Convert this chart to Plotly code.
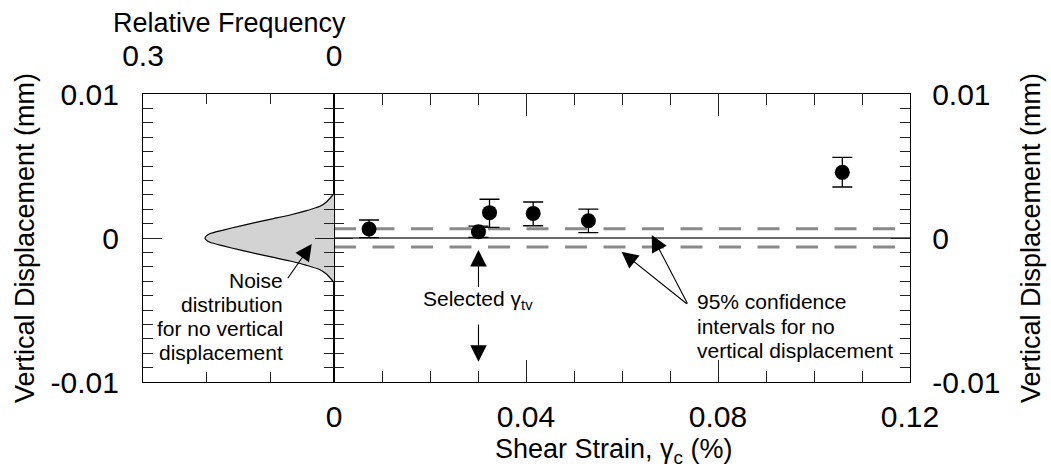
import plotly.graph_objects as go

# ---------------- data ----------------
strain = [0.0073, 0.0301, 0.0324, 0.0415, 0.0530, 0.1059]
disp = [0.00063, 0.00044, 0.00176, 0.00171, 0.00120, 0.00456]
err_plus = [0.00062, 0.00039, 0.00093, 0.00079, 0.00080, 0.00104]
err_minus = [0.00061, 0.00040, 0.00102, 0.00086, 0.00083, 0.00102]

ci_upper = 0.00064
ci_lower = -0.00062
zero_line = 0.0
selected_strain = 0.0301

noise_freq = [0.0, 0.0036, 0.0115, 0.022, 0.043, 0.069, 0.095, 0.121, 0.148,
              0.174, 0.195, 0.2005, 0.2026, 0.2005, 0.195, 0.174, 0.148, 0.121,
              0.095, 0.069, 0.043, 0.022, 0.0115, 0.0036, 0.0]
noise_disp = [0.0031, 0.0029, 0.00252, 0.0022, 0.0019, 0.0016, 0.00135, 0.0011,
              0.00083, 0.00055, 0.0003, 0.00015, 0.0, -0.00015, -0.0003, -0.00055,
              -0.00083, -0.0011, -0.00135, -0.0016, -0.0019, -0.0022, -0.00252,
              -0.0029, -0.0031]

x_ticks = [0, 0.04, 0.08, 0.12]
x_ticktext = ["0", "0.04", "0.08", "0.12"]
y_ticks = [-0.01, 0, 0.01]
y_ticktext = ["-0.01", "0", "0.01"]
f_ticks = [0.3, 0]
f_ticktext = ["0.3", "0"]

# ---------------- layout geometry ----------------
W, H = 1051, 468
L, R, T, B = 143, 141, 94, 86
PW = W - L - R
PH = H - T - B
split = (334 - L) / PW

FONT = "Arial, Liberation Sans, Helvetica, sans-serif"
TICKF = dict(family=FONT, size=30, color="black")
TITLEF = dict(family=FONT, size=27, color="black")
ANNF = dict(family=FONT, size=21, color="black")


def px(xp):
    return (xp - L) / PW


def py(yp):
    return (H - B - yp) / PH


fig = go.Figure()

# noise distribution (left panel)
fig.add_trace(go.Scatter(
    x=noise_freq, y=noise_disp, xaxis="x2", yaxis="y",
    mode="lines", fill="toself", fillcolor="#d3d3d3",
    line=dict(color="black", width=1.2, shape="spline", smoothing=0.6),
    hoverinfo="skip", showlegend=False))

# confidence interval dashed lines
for yv in (ci_upper, ci_lower):
    fig.add_trace(go.Scatter(
        x=[x_ticks[0], x_ticks[-1]], y=[yv, yv], xaxis="x", yaxis="y2",
        mode="lines", line=dict(color="#8a8a8a", width=3, dash="22px,16.5px"),
        hoverinfo="skip", showlegend=False))

# zero line
fig.add_trace(go.Scatter(
    x=[x_ticks[0], x_ticks[-1]], y=[zero_line, zero_line], xaxis="x", yaxis="y2",
    mode="lines", line=dict(color="#3a3a3a", width=1.3),
    hoverinfo="skip", showlegend=False))

# data points with error bars
fig.add_trace(go.Scatter(
    x=strain, y=disp, xaxis="x", yaxis="y2", mode="markers",
    marker=dict(color="black", size=15),
    error_y=dict(type="data", symmetric=False, array=err_plus,
                 arrayminus=err_minus, color="black", thickness=1.3, width=10),
    showlegend=False))

axis_common = dict(showline=True, linecolor="black", linewidth=1.3,
                   ticks="inside", tickcolor="#222", tickwidth=1.2,
                   showgrid=False, zeroline=False, tickfont=TICKF,
                   mirror="ticks")

fig.update_layout(
    width=W, height=H,
    margin=dict(l=L, r=R, t=T, b=B, pad=0),
    paper_bgcolor="white", plot_bgcolor="rgba(0,0,0,0)",
    showlegend=False,
    xaxis=dict(domain=[split, 1], anchor="y2", range=[0, 0.12],
               tickvals=x_ticks, ticktext=x_ticktext, ticklen=22,
               minor=dict(dtick=0.01, ticklen=11, ticks="inside",
                          tickcolor="#222", tickwidth=1.2, showgrid=False),
               ticklabelstandoff=8, **axis_common),
    xaxis2=dict(domain=[0, split], anchor="y", side="top", range=[0.3, 0],
                tickvals=f_ticks, ticktext=f_ticktext, ticklen=10,
                minor=dict(tickvals=[0.1, 0.2], ticklen=10, ticks="inside",
                           tickcolor="#222", tickwidth=1.2, showgrid=False),
                ticklabelstandoff=15, **axis_common),
    yaxis=dict(domain=[0, 1], anchor="x2", side="left", range=[-0.01, 0.01],
               tickvals=y_ticks, ticktext=y_ticktext, ticklen=19,
               minor=dict(dtick=0.001, ticklen=10, ticks="inside",
                          tickcolor="#222", tickwidth=1.2, showgrid=False),
               ticklabelstandoff=17, **axis_common),
    yaxis2=dict(domain=[0, 1], anchor="x", side="right", range=[-0.01, 0.01],
                matches="y",
                tickvals=y_ticks, ticktext=y_ticktext, ticklen=19,
                minor=dict(dtick=0.001, ticklen=10, ticks="inside",
                           tickcolor="#222", tickwidth=1.2, showgrid=False),
                ticklabelstandoff=15, **axis_common),
)

ann = []
# axis titles
ann.append(dict(text="Relative Frequency", x=px(229), y=py(23), xref="paper",
                yref="paper", showarrow=False, font=TITLEF,
                xanchor="center", yanchor="middle"))
ann.append(dict(text="Vertical Displacement (mm)", x=px(25), y=0.5, xref="paper",
                yref="paper", showarrow=False, font=TITLEF, textangle=-90,
                xanchor="center", yanchor="middle"))
ann.append(dict(text="Vertical Displacement (mm)", x=px(1031), y=0.5,
                xref="paper", yref="paper", showarrow=False, font=TITLEF,
                textangle=-90, xanchor="center", yanchor="middle"))
ann.append(dict(text="Shear Strain, γ<sub>c</sub> (%)", x=px(614), y=py(451),
                xref="paper", yref="paper", showarrow=False, font=TITLEF,
                xanchor="center", yanchor="middle"))

# noise label
for txt, yc in zip(["Noise", "distribution", "for no vertical", "displacement"],
                   [280.5, 304, 328, 352]):
    ann.append(dict(text=txt, x=px(285), y=py(yc), xref="paper", yref="paper",
                    showarrow=False, font=ANNF, xanchor="right",
                    yanchor="middle"))
# selected label
ann.append(dict(text="Selected γ<sub>tv</sub>", x=selected_strain, y=py(300),
                xref="x", yref="paper", showarrow=False, font=ANNF,
                xanchor="center", yanchor="middle"))
# confidence label
for txt, yc in zip(["95% confidence", "intervals for no",
                    "vertical displacement"], [301, 326, 350]):
    ann.append(dict(text=txt, x=px(695), y=py(yc), xref="paper", yref="paper",
                    showarrow=False, font=ANNF, xanchor="left",
                    yanchor="middle"))

arrow_style = dict(text="", showarrow=True, arrowhead=2, arrowsize=3,
                   arrowwidth=1.1, arrowcolor="black", standoff=0,
                   startstandoff=0)
# noise arrow
ann.append(dict(x=0.035, y=-0.00042, ax=0.0743, ay=-0.0029, xref="x2",
                yref="y", axref="x2", ayref="y", **arrow_style))
# selected arrows
ann.append(dict(x=selected_strain, y=-0.00083, ax=selected_strain, ay=-0.0035,
                xref="x", yref="y2", axref="x", ayref="y2", **arrow_style))
ann.append(dict(x=selected_strain, y=-0.0086, ax=selected_strain, ay=-0.0059,
                xref="x", yref="y2", axref="x", ayref="y2", **arrow_style))
# confidence arrows
ann.append(dict(x=0.0599, y=-0.00095, ax=0.0738, ay=-0.00465,
                xref="x", yref="y2", axref="x", ayref="y2", **arrow_style))
ann.append(dict(x=0.0662, y=0.00021, ax=0.0738, ay=-0.00465,
                xref="x", yref="y2", axref="x", ayref="y2", **arrow_style))

fig.update_layout(annotations=ann)
fig.write_html("out.html", config={"displayModeBar": False},
               post_script="document.body.style.margin='0px';"
                           "document.body.style.overflow='hidden';")
